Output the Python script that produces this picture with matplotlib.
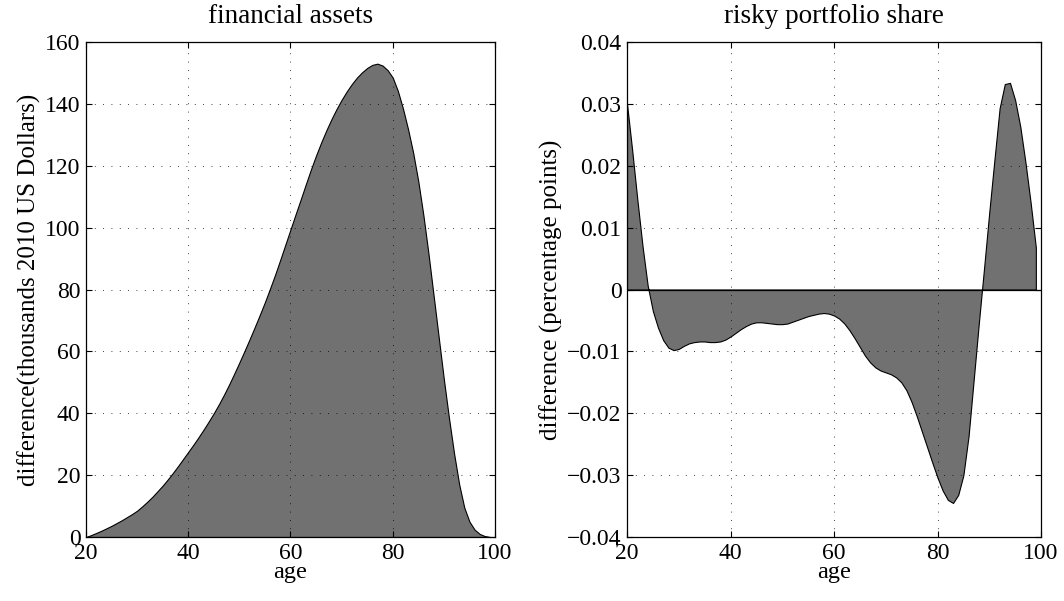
import matplotlib
matplotlib.use("Agg")
import matplotlib.pyplot as plt
from matplotlib.ticker import FixedLocator, FuncFormatter

plt.rcParams['font.family'] = ['Liberation Serif', 'DejaVu Serif']

ages = list(range(20, 100))

financial_assets = [
    0.0, 0.6, 1.3, 2.0, 2.8, 3.6, 4.5, 5.4, 6.4, 7.4,
    8.5, 9.9, 11.4, 13.0, 14.8, 16.6, 18.6, 20.7, 22.9, 25.2,
    27.5, 29.8, 32.2, 34.7, 37.3, 40.0, 42.9, 46.0, 49.3, 52.8,
    56.4, 60.1, 63.9, 67.8, 71.8, 75.9, 80.3, 84.8, 89.6, 94.5,
    99.4, 104.3, 109.1, 114.0, 118.8, 123.3, 127.5, 131.4, 135.0, 138.3,
    141.3, 144.0, 146.4, 148.5, 150.2, 151.6, 152.6, 153.0, 152.4, 150.9,
    148.5, 144.2, 138.5, 131.8, 124.2, 115.0, 104.0, 91.5, 78.0, 64.5,
    51.0, 38.5, 27.0, 17.0, 9.5, 5.0, 2.4, 1.0, 0.3, 0.0,
]

risky_share = [
    0.0300, 0.0225, 0.0145, 0.0070, 0.0006, -0.0035, -0.0062, -0.0082, -0.0094, -0.0098,
    -0.0096, -0.0091, -0.0087, -0.0085, -0.0084, -0.0084, -0.0085, -0.0085, -0.0084, -0.0081,
    -0.0076, -0.0070, -0.0064, -0.0059, -0.0055, -0.0053, -0.0053, -0.0054, -0.0055, -0.0056,
    -0.0056, -0.0055, -0.0052, -0.0049, -0.0046, -0.0043, -0.0041, -0.0039, -0.0038, -0.0039,
    -0.0042, -0.0047, -0.0055, -0.0066, -0.0079, -0.0093, -0.0107, -0.0118, -0.0126, -0.0131,
    -0.0134, -0.0137, -0.0142, -0.0150, -0.0163, -0.0182, -0.0205, -0.0230, -0.0255, -0.0280,
    -0.0304, -0.0325, -0.0340, -0.0345, -0.0332, -0.0300, -0.0237, -0.0145, -0.0053, 0.0035,
    0.0125, 0.0210, 0.0293, 0.0332, 0.0334, 0.0306, 0.0263, 0.0205, 0.0140, 0.0068,
]

x_ticks = [20, 40, 60, 80, 100]
left_yticks = [0, 20, 40, 60, 80, 100, 120, 140, 160]
right_yticks = [-0.04, -0.03, -0.02, -0.01, 0, 0.01, 0.02, 0.03, 0.04]

FILL = '#717171'
TICK_FS = 17
LABEL_FS = 17.5
YLABEL_FS = 18
TITLE_FS = 19.5

fig = plt.figure(figsize=(10.64, 6.01), dpi=100)
ax1 = fig.add_axes([0.0808, 0.1065, 0.3844, 0.8236])
ax2 = fig.add_axes([0.5893, 0.1065, 0.3891, 0.8236])


def style(ax):
    ax.grid(True, color='black', linestyle=(0, (1, 9)), linewidth=0.6)
    ax.tick_params(direction='in', top=True, right=True, length=4, width=0.8,
                   labelsize=TICK_FS, pad=4)
    for s in ax.spines.values():
        s.set_linewidth(0.9)
    ax.set_axisbelow(False)


ax1.fill_between(ages, 0, financial_assets, facecolor=FILL, edgecolor='black', linewidth=0.8, zorder=2)
ax1.set_xlim(20, 100)
ax1.set_ylim(0, 160)
ax1.xaxis.set_major_locator(FixedLocator(x_ticks))
ax1.yaxis.set_major_locator(FixedLocator(left_yticks))
style(ax1)
ax1.set_title('financial assets', fontsize=TITLE_FS, pad=14)
ax1.set_xlabel('age', fontsize=LABEL_FS, labelpad=-1)
ax1.set_ylabel('difference(thousands 2010 US Dollars)', fontsize=YLABEL_FS, labelpad=3)

ax2.fill_between(ages, 0, risky_share, facecolor=FILL, edgecolor='black', linewidth=0.8, zorder=2)
ax2.axhline(0, color='black', linewidth=0.9, zorder=3)
ax2.set_xlim(20, 100)
ax2.set_ylim(-0.04, 0.04)
ax2.xaxis.set_major_locator(FixedLocator(x_ticks))
ax2.yaxis.set_major_locator(FixedLocator(right_yticks))


def fmt(v, pos):
    if abs(v) < 1e-12:
        return '0'
    s = '%.2f' % abs(v)
    return ('\u2212' if v < 0 else '') + s


ax2.yaxis.set_major_formatter(FuncFormatter(fmt))
style(ax2)
ax2.set_title('risky portfolio share', fontsize=TITLE_FS, pad=14)
ax2.set_xlabel('age', fontsize=LABEL_FS, labelpad=-1)
ax2.set_ylabel('difference (percentage points)', fontsize=YLABEL_FS, labelpad=3)

fig.savefig('out.png', dpi=100)
